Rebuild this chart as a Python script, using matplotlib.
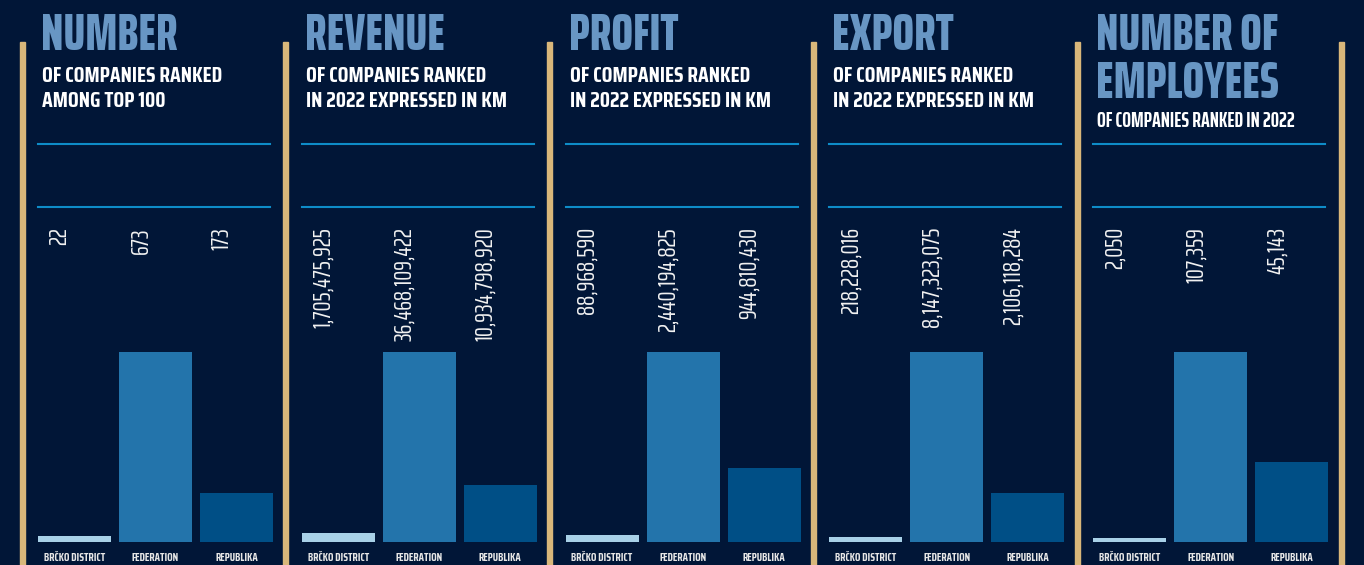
import matplotlib
matplotlib.use('Agg')
import matplotlib.pyplot as plt
import matplotlib.transforms as mtransforms
from matplotlib.patches import Rectangle
from matplotlib.lines import Line2D

# podaci
categories = ['BRČKO DISTRICT', 'FEDERATION', 'REPUBLIKA']
titles = [['NUMBER'], ['REVENUE'], ['PROFIT'], ['EXPORT'], ['NUMBER OF', 'EMPLOYEES']]
subtitles = [['OF COMPANIES RANKED', 'AMONG TOP 100'],
             ['OF COMPANIES RANKED', 'IN 2022 EXPRESSED IN KM'],
             ['OF COMPANIES RANKED', 'IN 2022 EXPRESSED IN KM'],
             ['OF COMPANIES RANKED', 'IN 2022 EXPRESSED IN KM'],
             ['OF COMPANIES RANKED IN 2022']]
companies = [22, 673, 173]
revenue = [1705475925, 36468109422, 10934798920]
profit = [88968590, 2440194825, 944810430]
export = [218228016, 8147323075, 2106118284]
employees = [2050, 107359, 45143]
series = [companies, revenue, profit, export, employees]

bg = '#011637'
gold = '#d9b77a'
title_col = '#6896c4'
line_col = '#0e8cc8'
bar_cols = ['#a8d1e8', '#2374ab', '#004f86']
FONT_T = ['Saira ExtraCondensed', 'DejaVu Sans']
FONT_S = ['Saira Condensed', 'DejaVu Sans']

W, H = 1364, 565
fig = plt.figure(figsize=(W / 100, H / 100), dpi=100, facecolor=bg)


def fx(x):
    return x / W


def fy(y):
    return 1 - y / H


step = 263.8
for i in range(5):
    left = 22 + step * i
    # naslovi
    base = 50
    for t in titles[i]:
        fig.text(fx(left + 19), fy(base), t, color=title_col, fontsize=37,
                 fontweight='heavy', family=FONT_T, va='baseline', ha='left')
        base += 48
    if len(titles[i]) == 1:
        sb, sfont, ssize = 82, FONT_S, 15.4
    else:
        sb, sfont, ssize = 127, FONT_T, 15
    for s in subtitles[i]:
        fig.text(fx(left + 20), fy(sb), s, color='white', fontsize=ssize,
                 fontweight='bold', family=sfont, va='baseline', ha='left')
        sb += 25

    # plave linije
    for yy in (144, 207):
        fig.add_artist(Line2D([fx(left + 16), fx(left + 248)], [fy(yy), fy(yy)],
                              color=line_col, lw=1.5))

    # grafikon
    ax = fig.add_axes([fx(left + 16), fy(542), 235 / W, 190 / H])
    ax.set_facecolor('none')
    vals = series[i]
    ax.bar(range(3), vals, width=0.9, color=bar_cols)
    ax.set_xlim(-0.45, 2.45)
    ax.set_ylim(0, max(vals))
    for sp in ax.spines.values():
        sp.set_visible(False)
    ax.set_yticks([])
    ax.set_xticks(range(3))
    ax.set_xticklabels(categories, color='#e6e6e6', fontsize=7.7, fontweight='bold',
                       family=FONT_S)
    ax.tick_params(axis='x', length=0, pad=7)

    trans = mtransforms.blended_transform_factory(ax.transData, fig.transFigure)
    off = mtransforms.offset_copy(trans, fig=fig, x=-15 * 0.72, y=0, units='points')
    for k, v in enumerate(vals):
        ax.text(k, fy(227), f'{v:,}', transform=off, rotation=90, ha='center',
                va='top', color='#f2f2f2', fontsize=18, fontweight='normal', family=FONT_T)

# zlatne linije
for i in range(6):
    x = 22 + step * i
    fig.patches.append(Rectangle((fx(x - 2.5), 0), 5 / W, fy(42), transform=fig.transFigure,
                                 color=gold, zorder=0))

fig.savefig('out.png', dpi=100, facecolor=bg)
